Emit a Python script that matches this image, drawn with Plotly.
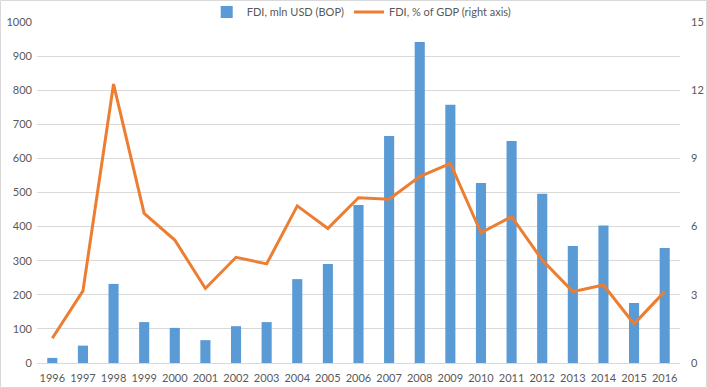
import plotly.graph_objects as go

years = [str(y) for y in range(1996, 2017)]
fdi_usd = [15, 51, 232, 120, 103, 67, 108, 120, 246, 290, 463, 666, 941, 757, 528, 651, 496, 343, 403, 176, 337]
fdi_gdp = [1.09, 3.17, 12.27, 6.58, 5.41, 3.28, 4.65, 4.36, 6.91, 5.92, 7.27, 7.2, 8.2, 8.78, 5.73, 6.44, 4.53, 3.14, 3.43, 1.72, 3.14]
left_ticks = list(range(0, 1001, 100))
right_ticks = [0, 3, 6, 9, 12, 15]

W, H = 707, 388
L, R, T, B = 37, 27, 22, 25
pw, ph = W - L - R, H - T - B

fig = go.Figure()
fig.add_trace(go.Bar(x=years, y=fdi_usd, name="FDI, mln USD (BOP)", marker_color="#5b9bd5", yaxis="y"))
fig.add_trace(go.Scatter(x=years, y=fdi_gdp, name="FDI, % of GDP (right axis)", mode="lines",
                         line=dict(color="#ed7d31", width=3), yaxis="y2"))

font = dict(family="Lato, 'Open Sans', sans-serif", size=11, color="#595959")
fig.update_layout(
    template="none",
    width=W, height=H,
    margin=dict(l=L, r=R, t=T, b=B, autoexpand=False),
    paper_bgcolor="white", plot_bgcolor="white",
    font=font,
    bargap=0.67,
    showlegend=True,
    legend=dict(orientation="h", x=0.505, xanchor="center", yref="container", y=1 - 12 / H, yanchor="middle",
                font=dict(family="Lato, 'Open Sans', sans-serif", size=11, color="#595959"),
                itemwidth=30, bgcolor="rgba(0,0,0,0)"),
    xaxis=dict(type="category", showgrid=False, showline=True, linecolor="#d9d9d9", automargin=False,
               ticks="", tickfont=font, range=[-0.5, 20.5], ticklabelstandoff=5),
    yaxis=dict(range=[0, 1000], tickvals=left_ticks, showgrid=True, gridcolor="#d9d9d9", automargin=False,
               zeroline=False, showline=False, ticks="", tickfont=font, ticklabelstandoff=4),
    yaxis2=dict(range=[0, 15], tickvals=right_ticks, overlaying="y", side="right", automargin=False,
                showgrid=False, zeroline=False, showline=False, ticks="", tickfont=font,
                ticklabelstandoff=10),
    shapes=[dict(type="rect", xref="paper", yref="paper",
                 x0=(-L + 0.5) / pw, x1=(pw + R - 0.5) / pw,
                 y0=(-B + 0.5) / ph, y1=(ph + T - 0.5) / ph,
                 line=dict(color="#d9d9d9", width=1), layer="below")],
)
fig.write_html("out.html", config={"displayModeBar": False},
               post_script="document.body.style.margin='0';document.body.style.overflow='hidden';")
